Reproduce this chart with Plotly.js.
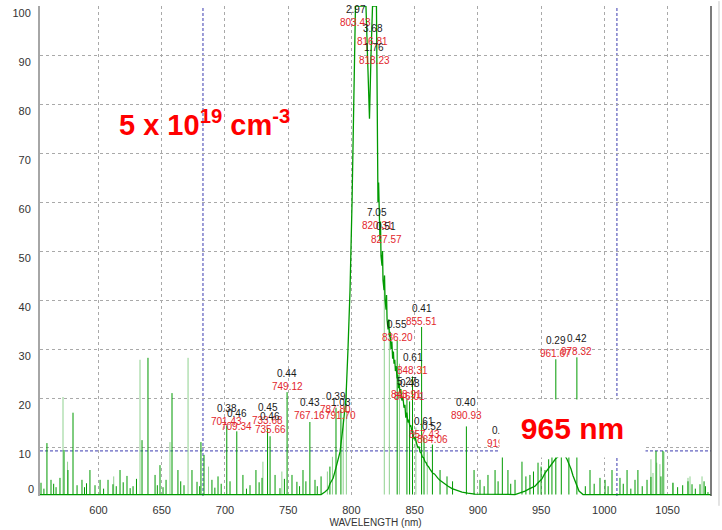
<!DOCTYPE html>
<html>
<head>
<meta charset="utf-8">
<script src="https://cdn.plot.ly/plotly-3.0.1.min.js"></script>
<style>html,body{margin:0;padding:0;background:#fff;}#chart{width:722px;height:530px;}</style>
</head>
<body>
<div id="chart"></div>
<script>
// ---- data ----
// broad emission (continuum) : wavelength (nm) and intensity
var contW = [553.7, 776.0, 779.0, 781.5, 783.0, 785.5, 787.0, 789.0, 791.0, 793.3, 795.7, 797.3, 798.9, 800.5, 802.0, 803.2,
  811.5, 813.1, 814.3, 815.5, 816.7, 819.8, 820.3,
  821.0, 821.5, 822.0, 822.6, 823.0, 823.4, 824.2, 824.6, 825.0, 825.8, 826.2, 826.6, 827.4, 827.8, 828.2, 829.0,
  829.5, 830.1, 830.6, 831.3, 832.0, 832.6, 833.2, 833.7, 834.3, 834.8, 835.4, 836.1, 836.7, 837.2, 837.8, 838.4,
  839.1, 839.9, 840.7, 841.6, 842.3, 843.0, 843.8, 844.7, 845.4, 846.2, 847.0, 847.9, 848.7, 849.5, 850.3, 851.1,
  851.9, 852.7, 853.5, 854.2, 855.1, 856.0, 857.1, 858.2, 859.1, 860.0, 861.0, 862.1, 863.3, 864.5, 865.7, 866.9,
  868.5, 870.0, 871.6, 873.2, 876.5, 879.6, 883.5, 887.5, 892.0, 897.7,
  929.4, 933.0, 937.3, 941.0, 945.2, 948.0, 950.7, 953.0, 955.5, 957.5, 959.4, 961.5, 963.4,
  965.5, 967.3, 969.0, 970.5, 972.0, 973.7, 975.2, 976.8, 978.5, 980.0, 983.2, 1084.4];
var contV = [0.3, 0.3, 0.8, 1.4, 2.5, 3.6, 5.0, 6.8, 9.0, 14.0, 20.0, 30.0, 42.0, 60.0, 80.0, 100.0,
  100.0, 85.0, 77.0, 90.0, 100.0, 100.0, 75.0,
  60.0, 64.0, 55.0, 52.0, 56.0, 49.0, 47.0, 50.0, 44.0, 42.0, 45.0, 40.0, 38.0, 41.0, 36.0, 34.0,
  36.0, 32.5, 33.5, 30.0, 31.5, 28.0, 29.5, 27.0, 27.8, 25.5, 26.5, 24.0, 24.8, 22.0, 23.0, 21.0,
  21.8, 19.5, 20.2, 18.0, 18.6, 16.0, 17.0, 15.0, 15.6, 14.2, 14.4, 13.0, 12.8, 11.6, 12.0, 11.0,
  10.4, 9.8, 10.1, 9.0, 8.8, 8.0, 7.8, 7.0, 6.8, 6.2, 6.0, 5.5, 5.1, 4.6, 4.5, 4.0,
  3.6, 3.2, 2.9, 2.5, 2.0, 1.5, 1.1, 0.8, 0.6, 0.4,
  0.3, 0.6, 1.0, 1.5, 2.0, 2.8, 3.5, 4.6, 5.5, 6.4, 7.0, 7.6, 8.0,
  8.6, 8.5, 8.2, 7.5, 6.6, 5.5, 4.2, 3.0, 1.8, 1.0, 0.3, 0.3];

// narrow lines, dark green
var darkW = [554.5, 556.8, 559.2, 562.4, 564.5, 566.4, 569.5, 572.7, 575.8, 579.8, 583.0, 586.9, 588.9, 590.5, 593.2,
  597.2, 601.2, 604.0, 607.5, 611.4, 614.0, 617.0, 619.5, 622.5, 625.0, 627.3, 630.0, 634.4, 639.1, 644.7, 646.5,
  648.6, 651.0, 653.4, 658.1, 662.8, 665.0, 667.6, 673.9, 677.9, 680.0, 681.0, 683.4, 689.7, 692.0, 694.5, 697.0,
  701.43, 704.0, 709.34, 714.2, 717.0, 719.8, 724.5, 727.0, 729.3, 733.68, 735.66, 739.6, 743.5, 747.0, 749.12,
  753.0, 756.9, 759.0, 761.7, 764.0, 767.16, 771.2, 773.0, 776.0, 783.0, 787.8, 791.7, 836.2, 843.91, 846.01,
  848.31, 855.51, 857.43, 864.06, 870.1, 875.6, 880.0, 890.93, 897.0, 901.7, 905.0, 908.0, 913.6, 916.0, 919.36,
  923.8, 926.0, 929.4, 934.9, 938.0, 941.2, 944.0, 947.6, 950.0, 953.1, 956.0, 958.6, 961.67, 966.0, 972.0,
  978.32, 985.0, 988.7, 992.0, 996.6, 1000.6, 1003.0, 1006.1, 1012.4, 1015.0, 1018.0, 1021.0, 1024.3, 1026.6,
  1030.0, 1033.8, 1036.9, 1040.9, 1044.8, 1046.4, 1054.3, 1058.0, 1062.0, 1066.2, 1069.4, 1072.0, 1075.7,
  1078.9, 1080.0, 1082.0];
var darkV = [2.7, 1.5, 10.8, 3.3, 2.5, 1.8, 3.7, 9.4, 5.3, 17.0, 2.2, 3.3, 1.8, 2.6, 5.3,
  2.2, 3.3, 1.5, 3.3, 2.4, 2.0, 5.3, 2.8, 4.1, 1.6, 2.0, 3.5, 11.4, 28.2, 4.3, 2.2,
  6.3, 1.8, 3.3, 21.0, 5.3, 3.0, 2.2, 5.3, 2.9, 2.0, 11.0, 8.4, 3.3, 1.7, 4.0, 2.5,
  14.4, 3.0, 13.2, 4.3, 1.5, 2.2, 5.3, 2.8, 3.7, 13.8, 12.2, 4.3, 1.6, 3.5, 21.2,
  4.3, 2.9, 2.0, 5.3, 3.0, 15.1, 3.3, 2.0, 4.0, 6.0, 18.0, 17.5, 31.8, 19.7, 19.3,
  24.4, 34.5, 12.0, 10.5, 5.3, 4.0, 3.0, 14.2, 5.3, 3.3, 2.0, 4.3, 5.3, 3.0, 9.7,
  5.3, 2.5, 3.3, 7.0, 4.0, 4.3, 5.0, 6.8, 6.0, 5.3, 7.5, 8.0, 27.9, 9.0, 8.0,
  28.3, 2.0, 5.3, 2.5, 3.7, 3.3, 2.0, 5.3, 3.7, 2.5, 5.3, 1.5, 3.3, 5.3,
  2.0, 3.3, 3.9, 9.2, 4.0, 9.2, 2.7, 1.8, 2.2, 3.0, 2.4, 1.5, 2.4,
  3.0, 2.0, 0.8];

// narrow lines, light green
var lightW = [571.9, 575.5, 612.0, 632.8, 656.5, 670.8, 687.0, 730.0, 745.0, 781.0, 785.0, 793.5, 796.0, 826.0,
  830.0, 838.0, 851.0, 860.0, 1036.9, 1038.5, 1041.5, 1044.0, 1047.2, 1054.3, 1066.2, 1067.8, 1077.3];
var lightV = [20.2, 7.0, 4.0, 27.8, 11.0, 28.2, 6.0, 7.0, 5.0, 5.0, 8.0, 16.0, 22.0, 45.0,
  36.0, 27.0, 14.0, 9.0, 7.5, 4.7, 6.8, 6.5, 9.0, 2.7, 3.7, 4.0, 4.0];

// peak labels: wavelength, value shown above it, text of wavelength
var peakW    = [803.43, 816.81, 818.23, 820.31, 827.57, 836.20, 855.51, 848.31, 843.91, 846.01, 857.43, 864.06,
  890.93, 919.36, 961.67, 978.32, 701.43, 709.34, 733.68, 735.66, 749.12, 767.16, 787.80, 791.70];
var peakVal  = ['2.97', '3.68', '1.76', '7.05', '0.51', '0.55', '0.41', '0.61', '5.27', '0.48', '0.61', '0.52',
  '0.40', '0.33', '0.29', '0.42', '0.38', '0.46', '0.45', '0.46', '0.44', '0.43', '0.39', '1.03'];
var peakText = ['803.43', '816.81', '818.23', '820.31', '827.57', '836.20', '855.51', '848.31', '843.91', '846.01',
  '857.43', '864.06', '890.93', '919.36', '961.67', '978.32', '701.43', '709.34', '733.68', '735.66', '749.12',
  '767.16', '787.80', '791.70'];
var peakLabelY = [99.2, 95.5, 91.6, 57.8, 55.1, 35.1, 38.2, 28.2, 23.3, 22.9, 15.3, 14.1,
  19.0, 13.3, 31.7, 32.2, 17.8, 16.9, 18.0, 16.2, 25.1, 19.0, 20.3, 19.0];

var yTicks = [0, 10, 20, 30, 40, 50, 60, 70, 80, 90, 100];
var yTickText = ['', '10', '20', '30', '40', '50', '60', '70', '80', '90', '100'];
var xTicks = [600, 650, 700, 750, 800, 850, 900, 950, 1000, 1050];
var xTickText = ['600', '650', '700', '750', '800', '850', '900', '950', '1000', '1050'];
var cursorW = [682.6, 1010.0];
var cursorLevel = 9.2;

// ---- build ----
function spikes(ws, vs) {
  var xs = [], ys = [];
  for (var i = 0; i < ws.length; i++) { xs.push(ws[i], ws[i], null); ys.push(0.3, vs[i], null); }
  return {x: xs, y: ys};
}
var sd = spikes(darkW, darkV), sl = spikes(lightW, lightV);
var DARK = '#009a00', LIGHT = '#8fd18f';
var NARROW = '"Liberation Sans Narrow", "Arial Narrow", "Liberation Sans", Arial, sans-serif';

var traces = [
  {type: 'scatter', mode: 'lines', x: sl.x, y: sl.y, line: {color: LIGHT, width: 1}, hoverinfo: 'skip', yaxis: 'y', connectgaps: false},
  {type: 'scatter', mode: 'lines', x: contW, y: contV, line: {color: DARK, width: 1.3}, hoverinfo: 'skip', yaxis: 'y2'},
  {type: 'scatter', mode: 'lines', x: sd.x, y: sd.y, line: {color: DARK, width: 1}, hoverinfo: 'skip', yaxis: 'y2', connectgaps: false}
];

var ann = [];
for (var i = 0; i < peakW.length; i++) {
  ann.push({x: peakW[i], y: peakLabelY[i], xref: 'x', yref: 'y', text: peakVal[i], showarrow: false,
    font: {family: NARROW, size: 10, color: '#1a1a1a'}, xanchor: 'center', yanchor: 'middle'});
  ann.push({x: peakW[i], y: peakLabelY[i], yshift: -13, xref: 'x', yref: 'y', text: peakText[i], showarrow: false,
    font: {family: NARROW, size: 10, color: '#e2262c'}, xanchor: 'center', yanchor: 'middle'});
}
ann.push({xref: 'paper', yref: 'paper', x: 0.115, y: 0.762, xanchor: 'left', yanchor: 'middle', showarrow: false,
  text: '<b>5 x 10<sup>19</sup> cm<sup>-3</sup></b>', font: {family: '"Liberation Sans", Arial, sans-serif', size: 29, color: '#ff0000'}});
ann.push({xref: 'paper', yref: 'paper', x: 0.7936, y: 0.1378, xanchor: 'center', yanchor: 'middle', showarrow: false,
  width: 145, height: 57, borderpad: 0, bgcolor: '#ffffff',
  text: '<b>965 nm</b>', font: {family: '"Liberation Sans", Arial, sans-serif', size: 30, color: '#ff0000'}});

var shapes = [
  {type: 'line', xref: 'paper', yref: 'y', x0: 0, x1: 1, y0: cursorLevel, y1: cursorLevel, line: {color: '#3b3bb0', width: 1, dash: '3px,2px'}, layer: 'below'},
  {type: 'line', xref: 'x', yref: 'paper', x0: cursorW[0], x1: cursorW[0], y0: 0, y1: 1, line: {color: '#3b3bb0', width: 1, dash: '3px,2px'}, layer: 'below'},
  {type: 'line', xref: 'x', yref: 'paper', x0: cursorW[1], x1: cursorW[1], y0: 0, y1: 1, line: {color: '#3b3bb0', width: 1, dash: '3px,2px'}, layer: 'below'},
  {type: 'line', xref: 'paper', yref: 'paper', x0: 1, x1: 1, y0: 0, y1: 1, line: {color: '#505050', width: 1.5}},
  {type: 'line', xref: 'paper', yref: 'paper', x0: 1.0119, x1: 1.0119, y0: -0.02, y1: 1.01, line: {color: '#c8c8c8', width: 1}}
];

var tickFont = {family: NARROW, size: 11, color: '#333333'};
var layout = {
  width: 722, height: 530,
  margin: {l: 40, r: 11, t: 6, b: 34, pad: 0},
  paper_bgcolor: '#ffffff', plot_bgcolor: '#ffffff',
  showlegend: false,
  xaxis: {range: [553.7, 1084.4], tickmode: 'array', tickvals: xTicks, ticktext: xTickText, showgrid: true,
    gridcolor: '#a9a9a9', griddash: '3px,3px', gridwidth: 1, zeroline: false, showline: false, ticks: '',
    ticklabelstandoff: 6, tickfont: tickFont,
    title: {text: 'WAVELENGTH (nm)', font: {family: NARROW, size: 10, color: '#333333'}, standoff: 3}},
  yaxis: {range: [0, 100], tickmode: 'array', tickvals: yTicks, ticktext: yTickText, showgrid: true,
    gridcolor: '#a9a9a9', griddash: '3px,3px', gridwidth: 1, zeroline: false, showline: true,
    linecolor: '#a6a6a6', linewidth: 2, ticks: '', ticklabelshift: 7, ticklabelstandoff: 5,
    ticklabeloverflow: 'allow', tickfont: tickFont},
  yaxis2: {range: [0, 100], overlaying: 'y', side: 'left', tickmode: 'array', tickvals: [0], ticktext: ['0'],
    showgrid: false, zeroline: false, showline: false, ticks: '', ticklabelshift: -7, ticklabelstandoff: 5,
    ticklabeloverflow: 'allow', tickfont: tickFont},
  annotations: ann,
  shapes: shapes
};

Plotly.newPlot('chart', traces, layout, {staticPlot: true, displayModeBar: false});
</script>
</body>
</html>
